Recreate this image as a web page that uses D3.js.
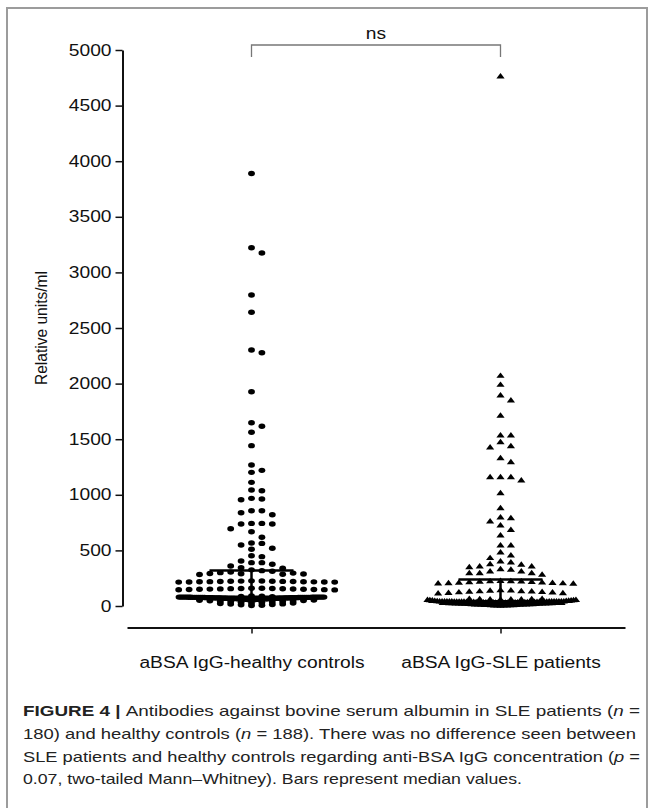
<!DOCTYPE html>
<html lang="en">
<head>
<meta charset="UTF-8">
<title>aBSA IgG</title>
<script src="https://cdn.jsdelivr.net/npm/d3@7"></script>
<style>
  body { margin: 0; background: #fff; }
  svg { display: block; }
  text { font-family: "Liberation Sans", Arial, sans-serif; fill: #111; }
</style>
</head>
<body>
<div id="chart"></div>
<script>
// categories and values (relative units/ml)
const categories = ["aBSA IgG-healthy controls", "aBSA IgG-SLE patients"];

const healthyValues = [
  3890, 3222, 3175, 2797, 2641, 2302, 2278, 1927, 1648, 1616, 1562, 1442,
  1268, 1220, 1202, 1112, 1043, 1037, 968, 962, 956, 857, 857, 839, 821,
  743, 743, 737, 737, 695, 668, 618, 566, 563, 548, 519, 510, 452, 444, 405,
  390, 390, 375, 360, 345, 339, 325,
  318, 312, 305, 300, 296, 292, 290, 288, 285, 283,
  226, 225, 224, 223, 222, 221, 220, 220, 219, 218, 218, 217, 216, 216, 215, 215,
  160, 159, 158, 157, 156, 155, 154, 153, 152, 151, 150, 149, 148, 147, 146, 145,
  90, 88, 86, 84,
  4, 7, 11, 13, 17, 19, 22, 26,
  28, 31, 33, 36, 38, 40, 42, 45, 47, 49, 51, 53,
  55, 56, 57, 58, 59, 60, 60, 61, 62, 62, 63, 63, 64, 64, 65, 65, 66, 66, 67, 67,
  68, 68, 68, 69, 69, 69, 70, 70, 70, 71, 71, 71, 72, 72, 72, 73, 73, 73, 73, 74,
  74, 74, 74, 75, 75, 75, 75, 76, 76, 76, 76, 77, 77, 77, 77, 77, 78, 78, 78, 78,
  78, 79, 79, 79, 79, 79, 80, 80, 80, 80, 80, 80, 80, 80, 80
];

const sleValues = [
  4760, 2068, 1987, 1891, 1846, 1709, 1531, 1531, 1472, 1436, 1424, 1328, 1292,
  1157, 1157, 1157, 1127, 1013, 878, 794, 788, 758, 722, 683, 632, 542, 542,
  479, 452, 429, 390,
  398, 375, 369, 353, 353, 348, 330, 324, 309, 309, 294, 294, 294, 279,
  224, 222, 220, 218, 216, 214, 212, 210, 208, 206, 204, 202, 200, 198,
  140, 137, 135, 132, 130, 128, 126, 124, 121, 119, 116, 113, 110,
  42, 43, 44, 45, 47, 48, 50, 51, 52, 53, 55, 56, 57, 58, 59, 60, 61, 62,
  1, 2, 2, 3, 4, 5, 5, 6, 7, 8, 8, 9, 10, 11, 12, 12, 13, 14, 15, 15,
  16, 17, 18, 18, 19, 20, 21, 21, 22, 23, 23, 24, 24, 25, 25, 26, 26, 26,
  27, 27, 27, 28, 28, 28, 29, 29, 29, 30, 30, 30, 31, 31, 31, 32, 32, 32, 33, 33,
  33, 33, 34, 34, 34, 34, 35, 35, 35, 35, 36, 36, 36, 36, 37, 37, 37, 37, 37, 38,
  38, 38, 38, 38, 38, 39, 39, 39, 39, 39, 39, 39
];

const yTicks = [0, 500, 1000, 1500, 2000, 2500, 3000, 3500, 4000, 4500, 5000];
const sigLabel = "ns";
const yTitle = "Relative units/ml";

const captionLines = [
  [["FIGURE 4 | ", "b"], ["Antibodies against bovine serum albumin in SLE patients ("], ["n", "i"], [" ="]],
  [["180) and healthy controls ("], ["n", "i"], [" = 188). There was no difference seen between"]],
  [["SLE patients and healthy controls regarding anti-BSA IgG concentration ("], ["p", "i"], [" ="]],
  [["0.07, two-tailed Mann\u2013Whitney). Bars represent median values."]]
];

const W = 654, H = 808;
const xStretch = 1.2;

const svg = d3.select("#chart").append("svg")
    .attr("width", W)
    .attr("height", H);

// figure frame
svg.append("rect")
    .attr("x", 7).attr("y", 8)
    .attr("width", 640).attr("height", 830)
    .attr("fill", "none")
    .attr("stroke", "#9c9c9c")
    .attr("stroke-width", 2);

function stretch(sel, k) {
  sel.each(function() {
    const len = this.getComputedTextLength();
    d3.select(this).attr("textLength", len * k).attr("lengthAdjust", "spacingAndGlyphs");
  });
}

const y = d3.scaleLinear().domain([0, 5000]).range([606, 50]);
const x = d3.scalePoint().domain(categories).range([127, 625]).padding(0.5);

// y axis
const yAxis = svg.append("g")
    .attr("transform", "translate(122.5,0)")
    .call(d3.axisLeft(y).tickValues(yTicks).tickFormat(d3.format("d"))
      .tickSize(7).tickPadding(4).tickSizeOuter(0));
yAxis.select(".domain").attr("stroke", "#111").attr("stroke-width", 2);
yAxis.selectAll(".tick line").attr("stroke", "#111").attr("stroke-width", 1.5);
yAxis.selectAll(".tick text").attr("font-size", 16).attr("fill", "#111")
    .style("font-family", '"Liberation Sans", Arial, sans-serif')
    .call(stretch, xStretch);

// x axis
const xAxis = svg.append("g")
    .attr("transform", "translate(0,627.5)")
    .call(d3.axisBottom(x).tickSize(6).tickPadding(23).tickSizeOuter(0));
xAxis.select(".domain").attr("stroke", "#111").attr("stroke-width", 2);
xAxis.selectAll(".tick line").attr("stroke", "#111").attr("stroke-width", 1.5);
xAxis.selectAll(".tick text").attr("font-size", 16).attr("fill", "#111")
    .style("font-family", '"Liberation Sans", Arial, sans-serif')
    .call(stretch, xStretch);

// y title
svg.append("text")
    .attr("transform", "translate(47,328) rotate(-90)")
    .attr("text-anchor", "middle")
    .attr("font-size", 17)
    .style("font-family", '"Liberation Sans Narrow", "Liberation Sans", sans-serif')
    .attr("textLength", 114)
    .attr("lengthAdjust", "spacingAndGlyphs")
    .text(yTitle);

// scatter layout: sparse points go into slots, the dense band near zero is packed in rows
const step = 10.4, minDy = 6, denseH = 9, rowH = 3;
function layout(values, cx, maxW) {
  const y0 = y(0);
  const pts = values.map(v => ({ v: v, y: y(v), p: y0 - y(v) }));
  const sparse = pts.filter(d => d.p > denseH).sort((a, b) => b.v - a.v);
  const placed = [];
  sparse.forEach(d => {
    for (let k = 0; k < 80; k++) {
      const slot = k === 0 ? 0 : (k % 2 ? (k + 1) / 2 : -k / 2);
      if (!placed.some(q => q.slot === slot && Math.abs(q.y - d.y) < minDy)) {
        d.slot = slot;
        placed.push(d);
        break;
      }
    }
    d.x = cx + d.slot * step;
  });
  const dense = pts.filter(d => d.p <= denseH);
  const rows = d3.group(dense, d => Math.min(2, Math.floor(d.p / rowH)));
  const frac = [0.72, 0.9, 1];
  rows.forEach((row, i) => {
    row.sort((a, b) => a.v - b.v);
    const w = Math.min((row.length - 1) * step, maxW * frac[i]);
    const sp = row.length > 1 ? w / (row.length - 1) : 0;
    row.forEach((d, j) => {
      const k = j === 0 ? 0 : (j % 2 ? (j + 1) / 2 : -j / 2);
      d.x = cx + k * sp;
    });
  });
  return pts;
}

const groups = [
  { name: categories[0], values: healthyValues, shape: "dot", maxW: 145 },
  { name: categories[1], values: sleValues, shape: "tri", maxW: 165 }
];

const tri = d3.symbol().type(d3.symbolTriangle).size(24);

groups.forEach(g => {
  const cx = x(g.name);
  const pts = layout(g.values, cx, g.maxW);
  const layer = svg.append("g");
  if (g.shape === "dot") {
    layer.selectAll("ellipse").data(pts).join("ellipse")
        .attr("cx", d => d.x).attr("cy", d => d.y)
        .attr("rx", 3.4).attr("ry", 2.7)
        .attr("fill", "#000");
  } else {
    layer.selectAll("path").data(pts).join("path")
        .attr("d", tri)
        .attr("transform", d => `translate(${d.x},${d.y}) scale(1.1,0.85)`)
        .attr("fill", "#000");
  }

  const sorted = g.values.slice().sort(d3.ascending);
  const q1 = d3.quantile(sorted, 0.25), med = d3.quantile(sorted, 0.5), q3 = d3.quantile(sorted, 0.75);
  const bars = svg.append("g").attr("stroke", "#000").attr("fill", "none");
  bars.append("line").attr("x1", cx).attr("x2", cx).attr("y1", y(q1)).attr("y2", y(q3)).attr("stroke-width", 2.5);
  bars.append("line").attr("x1", cx - 42).attr("x2", cx + 42).attr("y1", y(q3)).attr("y2", y(q3)).attr("stroke-width", 2.5);
  bars.append("line").attr("x1", cx - 42).attr("x2", cx + 42).attr("y1", y(q1)).attr("y2", y(q1)).attr("stroke-width", 2.5);
  bars.append("line").attr("x1", cx - 72).attr("x2", cx + 72).attr("y1", y(med)).attr("y2", y(med)).attr("stroke-width", 3);
});

// significance bracket
const bx1 = x(categories[0]), bx2 = x(categories[1]);
svg.append("path")
    .attr("d", `M${bx1},57V45H${bx2}V57`)
    .attr("fill", "none")
    .attr("stroke", "#777")
    .attr("stroke-width", 1.3);
svg.append("text")
    .attr("x", (bx1 + bx2) / 2)
    .attr("y", 39)
    .attr("text-anchor", "middle")
    .attr("font-size", 16)
    .text(sigLabel)
    .call(stretch, xStretch);

// caption
const capWidths = [617, 613, 617, 499];
const capBase = [716, 739, 762, 784];
captionLines.forEach((line, i) => {
  const t = svg.append("text")
      .attr("x", 23)
      .attr("y", capBase[i])
      .attr("font-size", 15)
      .style("white-space", "pre")
      .style("fill", "#222");
  line.forEach(part => {
    t.append("tspan")
        .attr("font-weight", part[1] === "b" ? "bold" : null)
        .attr("font-style", part[1] === "i" ? "italic" : null)
        .text(part[0]);
  });
  t.attr("textLength", capWidths[i]).attr("lengthAdjust", "spacingAndGlyphs");
});
</script>
</body>
</html>
